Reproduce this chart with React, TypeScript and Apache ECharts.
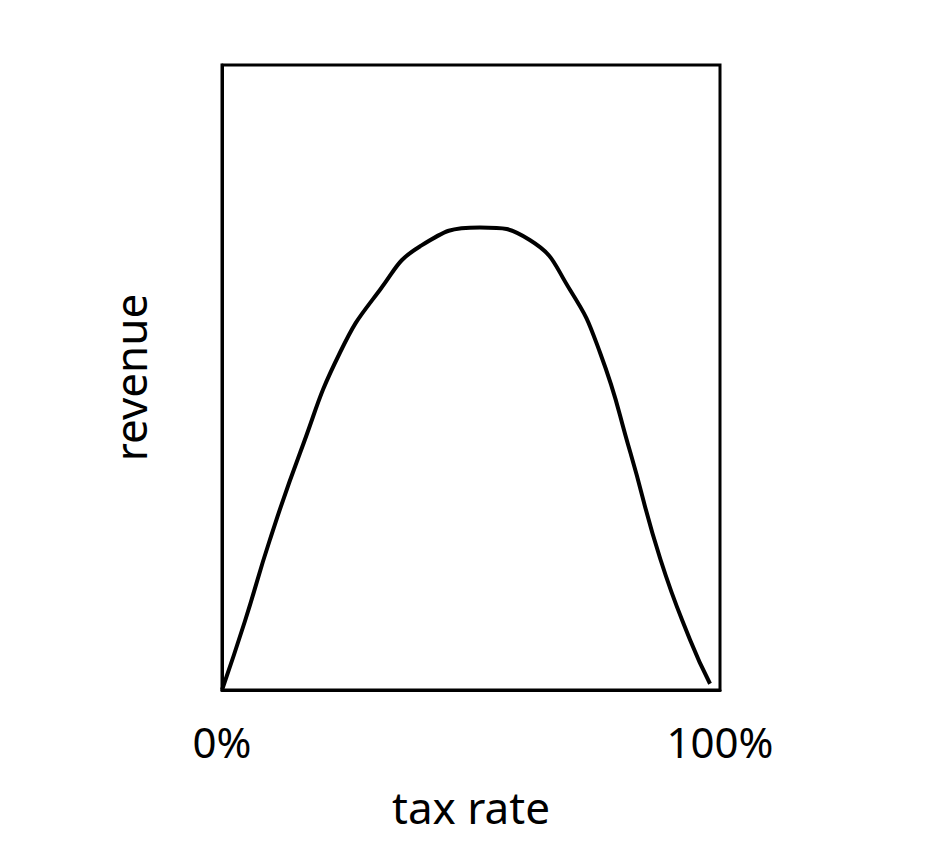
import React, { useEffect, useRef } from 'react';
import * as echarts from 'echarts';

// tax rate (%) vs revenue (relative)
const taxRate = [0, 4.6, 9.6, 15.7, 23.7, 31.7, 39.8, 51.8, 61.8, 69.9, 75.9, 82, 88, 94, 98];
const revenue = [0, 11, 24, 38, 54, 64, 71, 74, 72, 64, 54, 38, 21, 8, 1];
const tickLabels: Record<number, string> = { 0: '0%', 100: '100%' };

const App: React.FC = () => {
  const chartRef = useRef<HTMLDivElement>(null);

  useEffect(() => {
    if (!chartRef.current) return;
    const chart = echarts.init(chartRef.current, undefined, { renderer: 'svg' });

    const font = "'Noto Sans', sans-serif";
    chart.setOption({
      animation: false,
      backgroundColor: '#ffffff',
      grid: {
        left: 222,
        right: 223,
        top: 65,
        bottom: 156,
        show: true,
        borderColor: '#000',
        borderWidth: 3,
        backgroundColor: 'transparent'
      },
      xAxis: {
        type: 'value',
        min: 0,
        max: 100,
        interval: 100,
        name: 'tax rate',
        nameLocation: 'middle',
        nameGap: 95,
        nameTextStyle: { fontSize: 44, color: '#000', fontFamily: font },
        axisLine: { lineStyle: { color: '#000', width: 3 } },
        axisTick: { show: false },
        splitLine: { show: false },
        axisLabel: {
          margin: 30,
          fontSize: 42,
          color: '#000',
          fontFamily: font,
          formatter: (v: number) => tickLabels[v] ?? ''
        }
      },
      yAxis: {
        type: 'value',
        min: 0,
        max: 100,
        name: 'revenue',
        nameLocation: 'middle',
        nameGap: 70,
        nameTextStyle: { fontSize: 44, color: '#000', fontFamily: font },
        axisLine: { show: true, lineStyle: { color: '#000', width: 3 } },
        axisTick: { show: false },
        axisLabel: { show: false },
        splitLine: { show: false }
      },
      series: [
        {
          type: 'line',
          smooth: true,
          showSymbol: false,
          lineStyle: { color: '#000', width: 4 },
          data: taxRate.map((x, i) => [x, revenue[i]])
        }
      ]
    });

    return () => chart.dispose();
  }, []);

  return (
    <div
      ref={chartRef}
      style={{ position: 'fixed', left: 0, top: 0, width: 943, height: 846 }}
    />
  );
};

export default App;
